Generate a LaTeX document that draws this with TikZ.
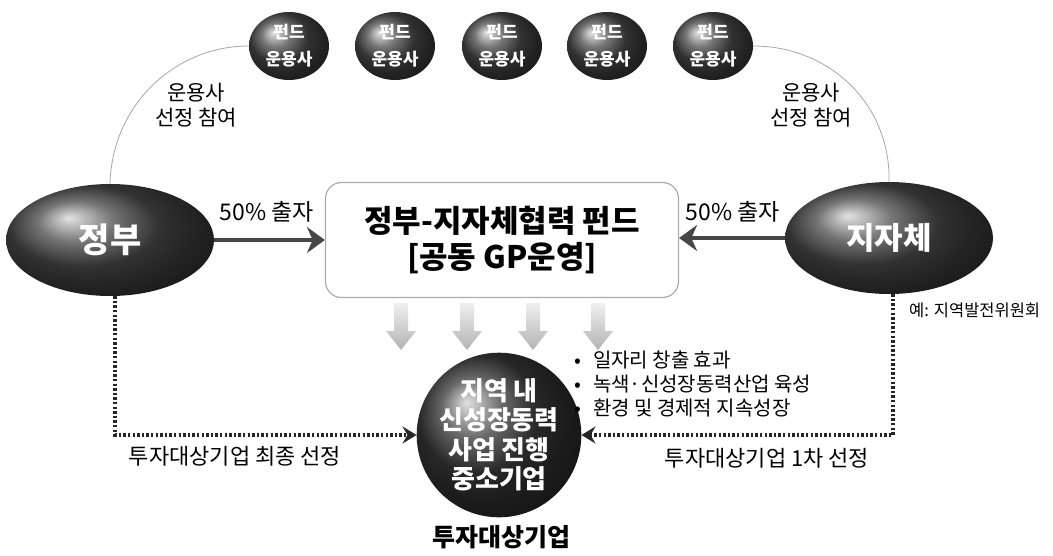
\documentclass[tikz,border=0pt]{standalone}
\usepackage{fontspec}
\setmainfont{Noto Sans CJK KR}
\usetikzlibrary{shapes.geometric,arrows.meta}
\newcommand\fsz[2]{\fontsize{#1}{#2}\selectfont}
\tikzset{
  fundball/.style={ellipse, minimum width=80pt, minimum height=68pt, inner sep=0pt,
    shading=ball, ball color=black!72, text=white, font=\fsz{17}{27}\bfseries, align=center},
  bigball/.style={ellipse, minimum width=208pt, minimum height=112pt, inner sep=0pt,
    shading=ball, ball color=black!72, text=white, font=\fsz{34}{38}\bfseries},
  compball/.style={circle, minimum size=152pt, inner sep=0pt,
    shading=ball, ball color=black!78, text=white, font=\fsz{26}{29.5}\bfseries, align=center},
  fundbox/.style={draw=gray!65, line width=1.2pt, rounded corners=16pt, minimum width=353pt,
    minimum height=115pt, align=center, font=\fsz{31}{36}\bfseries},
  grayarrow/.style={draw=gray!55!black, line width=4.5pt, -{Stealth[length=18pt,width=26pt]}},
  dotarrow/.style={draw=black!85, line width=3.2pt, dash pattern=on 2.4pt off 2.2pt,
    -{Stealth[length=14pt,width=17pt,inset=5pt]}},
  arcline/.style={draw=gray!70, line width=0.8pt},
  lbl/.style={font=\fsz{21}{25}, align=center, inner sep=0pt},
  bul/.style={font=\fsz{20}{22}, anchor=west, inner sep=0pt},
}
\begin{document}
\begin{tikzpicture}[x=1pt,y=-1pt]
\useasboundingbox (0,0) rectangle (1053,555);
% fund managers
\node[fundball] (f1) at (289,46) {펀드\\운용사};
\node[fundball] (f2) at (395,46) {펀드\\운용사};
\node[fundball] (f3) at (502,46) {펀드\\운용사};
\node[fundball] (f4) at (607,46) {펀드\\운용사};
\node[fundball] (f5) at (713,46) {펀드\\운용사};
% main actors
\node[bigball] (gov) at (110,240) {정부};
\node[bigball, font=\fsz{31}{34}\bfseries] (lg) at (889,238) {지자체};
\node[fundbox] (fund) at (502,240) {정부-지자체협력 펀드\\{}{[}공동 GP운영{]}};
\node[compball] (comp) at (499,435) {지역 내\\신성장동력\\사업 진행\\중소기업};
% arcs
\draw[arcline] (gov.north) .. controls (112,105) and (175,46) .. (f1.west);
\draw[arcline] (f5.east) .. controls (830,46) and (891,105) .. (lg.north);
\node[lbl] (al) at (196,105) {운용사\\선정 참여};
\node[lbl] (ar) at (811,105) {운용사\\선정 참여};
% investment arrows
\draw[grayarrow] (gov.east) -- (fund.west);
\draw[grayarrow] (lg.west) -- (fund.east |- lg.west);
\node[font=\fsz{23}{26}, inner sep=0pt] (pl) at (267,212) {50\% 출자};
\node[font=\fsz{23}{26}, inner sep=0pt] (pr) at (733,212) {50\% 출자};
% down arrows
\foreach \c in {401,467,533,598}{
  \shade[top color=gray!12, bottom color=gray!60]
    (\c-7,303) -- (\c+7,303) -- (\c+7,331) -- (\c+15,331) -- (\c,350) -- (\c-15,331) -- (\c-7,331) -- cycle;
}
% bullets
\node[bul] (b1) at (574,360) {•\hspace{12pt}일자리 창출 효과};
\node[bul] (b2) at (574,384) {•\hspace{12pt}녹색·신성장동력산업 육성};
\node[bul] (b3) at (574,408) {•\hspace{12pt}환경 및 경제적 지속성장};
% selection arrows
\draw[dotarrow] ([xshift=5pt]gov.south) |- (comp.west);
\draw[dotarrow] ([xshift=4pt]lg.south) |- (comp.east);
\node[font=\fsz{22}{24}, inner sep=0pt] (sl) at (235,456) {투자대상기업 최종 선정};
\node[font=\fsz{22}{24}, inner sep=0pt] (sr) at (767,458) {투자대상기업 1차 선정};
\node[font=\fsz{16.5}{18}, anchor=west, inner sep=0pt] (ex) at (909,310) {예: 지역발전위원회};
\node[font=\fsz{25}{28}\bfseries, inner sep=0pt] (tt) at (501,537) {투자대상기업};
\end{tikzpicture}
\end{document}
